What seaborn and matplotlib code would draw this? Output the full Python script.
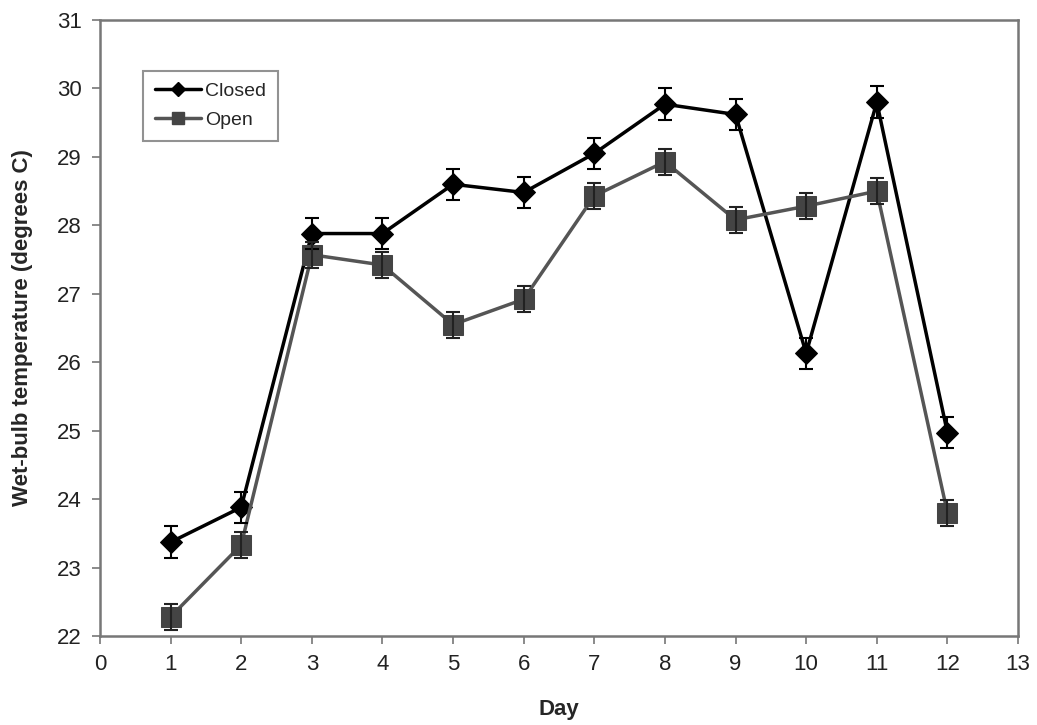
import matplotlib
matplotlib.use("Agg")
import matplotlib.pyplot as plt
import seaborn as sns
import pandas as pd
import numpy as np

days = [1, 2, 3, 4, 5, 6, 7, 8, 9, 10, 11, 12]
closed = [23.37, 23.88, 27.88, 27.88, 28.60, 28.48, 29.05, 29.77, 29.62, 26.13, 29.80, 24.97]
open_ = [22.28, 23.33, 27.57, 27.42, 26.55, 26.92, 28.43, 28.93, 28.08, 28.28, 28.50, 23.80]
closed_err = [0.23, 0.23, 0.23, 0.23, 0.23, 0.23, 0.23, 0.23, 0.23, 0.23, 0.23, 0.23]
open_err = [0.19, 0.19, 0.19, 0.19, 0.19, 0.19, 0.19, 0.19, 0.19, 0.19, 0.19, 0.19]

sns.set_theme(style="white")
plt.rcParams['font.family'] = ['Liberation Sans', 'DejaVu Sans']

fig = plt.figure(figsize=(10.37, 7.25), dpi=100)
ax = fig.add_axes([0.0964, 0.1228, 0.8853, 0.8496])

df = pd.DataFrame({"Day": days * 2,
                   "Temp": closed + open_,
                   "Series": ["Closed"] * 12 + ["Open"] * 12})

palette = {"Closed": "#000000", "Open": "#555555"}
sns.lineplot(data=df, x="Day", y="Temp", hue="Series", style="Series",
             markers={"Closed": "D", "Open": "s"}, dashes=False,
             palette=palette, linewidth=2.5, markersize=12, ax=ax,
             legend=False)
for ln, c, ms in zip(ax.lines, ["#000000", "#444444"], [11, 14]):
    ln.set_markerfacecolor(c)
    ln.set_markeredgecolor(c)
    ln.set_markersize(ms)

ax.errorbar(days, closed, yerr=closed_err, fmt="none", ecolor="#000000",
            elinewidth=1.5, capsize=5, capthick=1.5, zorder=3)
ax.errorbar(days, open_, yerr=open_err, fmt="none", ecolor="#222222",
            elinewidth=1.5, capsize=5, capthick=1.5, zorder=3)

ax.set_xlim(0, 13)
ax.set_ylim(22, 31)
ax.set_xticks(range(0, 14))
ax.set_yticks(range(22, 32))
ax.tick_params(axis="both", labelsize=16, length=6, width=1.2, color="#777777",
               direction="out", bottom=True, left=True, pad=7, labelcolor="#222222")
for sp in ax.spines.values():
    sp.set_color("#777777")
    sp.set_linewidth(1.8)

ax.set_xlabel("Day", fontsize=16, fontweight="bold", labelpad=17)
ax.set_ylabel("Wet-bulb temperature (degrees C)", fontsize=16, fontweight="bold", labelpad=17)

from matplotlib.lines import Line2D
handles = [Line2D([], [], color="#000000", lw=2.5, marker="D", markersize=7),
           Line2D([], [], color="#555555", lw=2.5, marker="s", markersize=9,
                  markerfacecolor="#444444", markeredgecolor="#444444")]
leg = ax.legend(handles, ["Closed", "Open"], loc="upper left",
                bbox_to_anchor=(0.047, 0.918), fontsize=14, frameon=True,
                fancybox=False, edgecolor="#777777", handlelength=2.4,
                borderpad=0.6, labelspacing=0.6, handletextpad=0.2,
                borderaxespad=0)
leg.get_frame().set_linewidth(1.5)

fig.savefig("out.png", dpi=100)
